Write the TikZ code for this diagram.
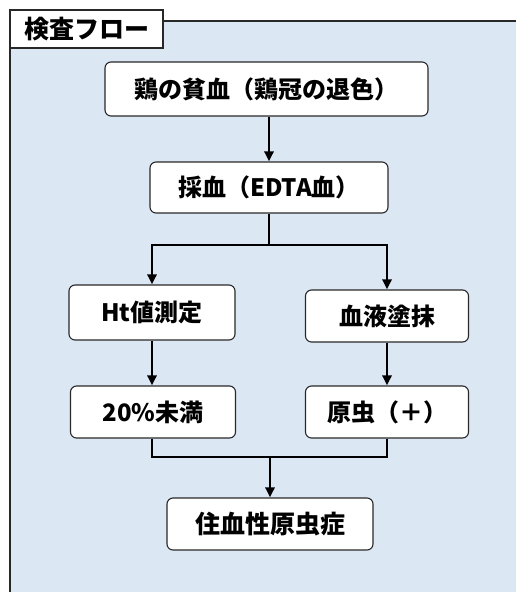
\documentclass[tikz,border=0pt]{standalone}
\usepackage{fontspec}
\newfontfamily\jp{Noto Sans CJK JP}
\usetikzlibrary{arrows.meta}
\definecolor{panelbg}{RGB}{220,231,244}
\definecolor{boxline}{RGB}{40,40,40}
\begin{document}
\begin{tikzpicture}[x=1pt,y=-1pt,
  flowbox/.style={draw=boxline,line width=1.1pt,fill=white,rounded corners=6pt,
    font=\jp\bfseries\fontsize{24}{26}\selectfont,inner sep=0pt},
  conn/.style={line width=2.5pt,black},
  arr/.style={conn,-{Triangle[length=10pt,width=9pt]}}]
\useasboundingbox (0,0) rectangle (515,592);
\fill[white] (0,0) rectangle (515,592);
\fill[panelbg] (10,21) rectangle (516,593);
\draw[boxline,line width=1.2pt] (10,593) -- (10,21) -- (516,21);
\node[draw=boxline,line width=1.2pt,fill=white,minimum width=153pt,minimum height=38pt,
  inner sep=0pt,font=\jp\bfseries\fontsize{25}{27}\selectfont] (title) at (86.5,29) {検査フロー};
\node[flowbox,minimum width=323pt,minimum height=54pt] (n1) at (266.5,89) {鶏の貧血（鶏冠の退色）};
\node[flowbox,minimum width=238pt,minimum height=51pt] (n2) at (269,187.5) {採血（EDTA血）};
\node[flowbox,minimum width=166pt,minimum height=55pt] (ht) at (152,312.5) {Ht値測定};
\node[flowbox,minimum width=163pt,minimum height=52pt] (sm) at (387,316) {血液塗抹};
\node[flowbox,minimum width=165pt,minimum height=52pt] (lo) at (153,412) {20\%未満};
\node[flowbox,minimum width=163pt,minimum height=52pt] (pr) at (387,412) {原虫（＋）};
\node[flowbox,minimum width=206pt,minimum height=52pt,font=\jp\bfseries\fontsize{25}{27}\selectfont] (fin) at (270,524) {住血性原虫症};
\coordinate (b1) at (269,245);
\coordinate (m1) at (270,457);
\draw[arr] (n1.south -| n2.north) -- (n2.north);
\draw[conn] (n2.south) -- (b1);
\draw[arr] (b1) -| (ht.north);
\draw[arr] (b1) -| (sm.north);
\draw[arr] (ht.south) -- (lo.north -| ht.south);
\draw[arr] (sm.south) -- (pr.north);
\draw[conn] (lo.south -| ht.south) |- (m1);
\draw[conn] (pr.south) |- (m1);
\draw[arr] (m1) -- (fin.north);
\end{tikzpicture}
\end{document}
